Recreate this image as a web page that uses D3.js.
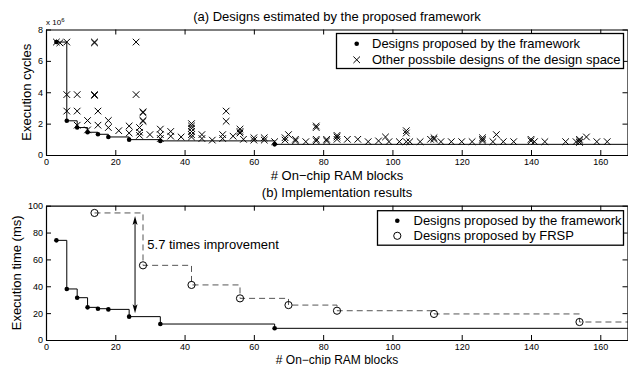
<!DOCTYPE html>
<html>
<head>
<meta charset="utf-8">
<script src="https://cdn.jsdelivr.net/npm/d3@7/dist/d3.min.js"></script>
<style>
  body { margin: 0; background: #fff; }
  svg { display: block; font-family: Arial, "Liberation Sans", Helvetica, sans-serif; }
</style>
</head>
<body>
<div id="chart"></div>
<script>
// ---- data ----
// designs picked by the framework (RAM blocks, cycles x1e6, measured time in ms)
const frameworkBlocks = [3, 6, 9, 12, 15, 18, 24, 33, 66];
const frameworkCycles = [7.2, 2.18, 1.75, 1.45, 1.32, 1.15, 0.98, 0.9, 0.68];
const frameworkTime = [74.2, 38, 31.5, 24.3, 23.3, 22.8, 17.4, 11.9, 8.7];

// designs picked by FRSP
const frspBlocks = [14, 28, 42, 56, 70, 84, 112, 154];
const frspTime = [94.6, 55.6, 41, 31, 26, 21.8, 19.4, 13.4];

// the rest of the design space (cycles x1e6)
const otherBlocks = [
  3, 4, 6, 6, 6, 9, 9, 9, 12, 12, 14, 14, 14, 14, 15, 15, 18, 18, 21, 24, 24,
  26, 26, 27, 27, 27, 28, 28, 28, 28, 30, 33, 33, 33, 36, 36, 39,
  42, 42, 42, 42, 42, 42, 45, 45, 48, 51, 51, 52, 52, 54, 56, 56, 56, 57,
  60, 60, 63, 63, 66, 69, 69, 70, 72, 72, 75, 78, 78, 78, 78, 81, 81,
  84, 84, 84, 87, 90, 93, 96, 98, 99, 102, 104, 104, 104, 105, 108,
  111, 112, 112, 114, 117, 120, 123, 126, 126, 126, 129, 130, 132, 135,
  140, 140, 141, 144, 150, 153, 154, 154, 154, 156, 159, 162
];
const otherCycles = [
  7.2, 7.15, 7.2, 3.85, 2.8, 3.85, 2.8, 1.9, 2.2, 1.6, 7.2, 7.15, 3.85, 3.8, 2.8, 1.9, 2.2, 1.75, 1.55, 1.85, 1.4,
  7.2, 3.85, 1.75, 1.45, 1.25, 2.75, 2.7, 2.2, 2.15, 1.3, 1.65, 1.3, 1.05, 1.5, 1.2, 1.15,
  2.0, 1.85, 1.7, 1.5, 1.3, 1.15, 1.3, 1.05, 0.95, 1.3, 1.05, 2.8, 2.15, 1.2, 1.65, 1.5, 1.4, 1.0,
  1.1, 0.95, 1.1, 0.95, 0.85, 1.1, 0.95, 1.3, 1.0, 0.9, 0.85, 1.85, 1.75, 1.0, 0.9, 1.0, 0.9,
  1.25, 1.15, 1.0, 1.0, 1.0, 0.85, 0.9, 1.15, 0.85, 0.85, 1.55, 1.4, 0.85, 0.85, 0.85,
  1.0, 1.1, 1.0, 0.85, 0.85, 0.85, 0.85, 1.1, 1.0, 0.9, 0.85, 1.3, 0.85, 0.85,
  1.0, 0.9, 0.85, 0.85, 0.85, 0.85, 1.0, 0.9, 0.8, 1.15, 0.85, 0.85
];

const blockTicks = [0, 20, 40, 60, 80, 100, 120, 140, 160];
const cycleTicks = [0, 2, 4, 6, 8];
const timeTicks = [0, 20, 40, 60, 80, 100];

// annotation arrow (RAM blocks, ms)
const arrowBlock = 25.7;
const arrowTop = 92.3;
const arrowBottom = 19.9;

// ---- layout ----
const width = 628, height = 365;
const left = 46, right = 628;
const topPanel = { top: 29.5, bottom: 155 };
const botPanel = { top: 205.7, bottom: 340 };

const svg = d3.select('#chart').append('svg')
  .attr('width', width)
  .attr('height', height);

const x = d3.scaleLinear().domain([0, 168]).range([left, right]);
const yCycles = d3.scaleLinear().domain([0, 8]).range([topPanel.bottom, topPanel.top]);
const yTime = d3.scaleLinear().domain([0, 100]).range([botPanel.bottom, botPanel.top]);

const crossPath = 'M-3.3,-3.3L3.3,3.3M-3.3,3.3L3.3,-3.3';

svg.append('defs').selectAll('clipPath')
  .data([['clipTop', topPanel], ['clipBot', botPanel]])
  .enter().append('clipPath')
  .attr('id', d => d[0])
  .append('rect')
  .attr('x', left).attr('y', d => d[1].top)
  .attr('width', right - left).attr('height', d => d[1].bottom - d[1].top);

function drawAxes(y, yTicks, panel) {
  const g = svg.append('g');

  g.append('g')
    .attr('transform', `translate(0,${panel.bottom})`)
    .call(d3.axisBottom(x).tickValues(blockTicks).tickSizeInner(-5).tickSizeOuter(0).tickPadding(3.5));
  g.append('g')
    .attr('transform', `translate(0,${panel.top})`)
    .call(d3.axisTop(x).tickValues(blockTicks).tickSizeInner(-5).tickSizeOuter(0).tickFormat(''));
  g.append('g')
    .attr('transform', `translate(${left},0)`)
    .call(d3.axisLeft(y).tickValues(yTicks).tickSizeInner(-5).tickSizeOuter(0).tickPadding(3));
  g.append('g')
    .attr('transform', `translate(${right - 0.5},0)`)
    .call(d3.axisRight(y).tickValues(yTicks).tickSizeInner(-5).tickSizeOuter(0).tickFormat(''));

  g.selectAll('.domain').attr('stroke', '#000').attr('stroke-width', 1.2);
  g.selectAll('.tick line').attr('stroke', '#000');
  g.selectAll('.tick text')
    .attr('fill', '#000')
    .style('font-size', '9px')
    .style('font-family', 'Arial, "Liberation Sans", sans-serif');
  return g;
}

function stepLine(y) {
  return d3.line()
    .x(d => x(d[0]))
    .y(d => y(d[1]))
    .curve(d3.curveStepAfter);
}

function withTail(xs, ys) {
  const pts = xs.map((v, i) => [v, ys[i]]);
  pts.push([x.domain()[1], ys[ys.length - 1]]);
  return pts;
}

// ---- panel (a) ----
const plotA = svg.append('g').attr('clip-path', 'url(#clipTop)');

plotA.append('path')
  .datum(withTail(frameworkBlocks, frameworkCycles))
  .attr('d', stepLine(yCycles))
  .attr('fill', 'none')
  .attr('stroke', '#000')
  .attr('stroke-width', 1);

plotA.selectAll('.other')
  .data(otherBlocks)
  .enter().append('path')
  .attr('class', 'other')
  .attr('transform', (d, i) => `translate(${x(d)},${yCycles(otherCycles[i])})`)
  .attr('d', crossPath)
  .attr('stroke', '#000')
  .attr('stroke-width', 1)
  .attr('fill', 'none');

plotA.selectAll('.dotA')
  .data(frameworkBlocks)
  .enter().append('circle')
  .attr('class', 'dotA')
  .attr('cx', d => x(d))
  .attr('cy', (d, i) => yCycles(frameworkCycles[i]))
  .attr('r', 2.3)
  .attr('fill', '#000');

drawAxes(yCycles, cycleTicks, topPanel);

// x 10^6
const expo = svg.append('text')
  .attr('x', left)
  .attr('y', 25)
  .style('font-size', '8px');
expo.append('tspan').text('x 10');
expo.append('tspan').attr('dy', -3).style('font-size', '6px').text('6');

svg.append('text')
  .attr('x', (left + right) / 2)
  .attr('y', 21)
  .attr('text-anchor', 'middle')
  .style('font-size', '13px')
  .text('(a) Designs estimated by the proposed framework');

svg.append('text')
  .attr('x', (left + right) / 2)
  .attr('y', 179.5)
  .attr('text-anchor', 'middle')
  .style('font-size', '13px')
  .text('# On\u2212chip RAM blocks');

svg.append('text')
  .attr('transform', `translate(31,${(topPanel.top + topPanel.bottom) / 2}) rotate(-90)`)
  .attr('text-anchor', 'middle')
  .style('font-size', '13px')
  .text('Execution cycles');

// legend (a)
const legA = svg.append('g');
legA.append('rect')
  .attr('x', 336.5).attr('y', 33.5)
  .attr('width', 287).attr('height', 35)
  .attr('fill', '#fff')
  .attr('stroke', '#000')
  .attr('stroke-width', 1.3);
legA.append('circle').attr('cx', 356.7).attr('cy', 43.8).attr('r', 2.3).attr('fill', '#000');
legA.append('path').attr('transform', 'translate(356.7,59.8)').attr('d', crossPath)
  .attr('stroke', '#000').attr('fill', 'none');
legA.append('text').attr('x', 372).attr('y', 48.3).style('font-size', '13px')
  .text('Designs proposed by the framework');
legA.append('text').attr('x', 372).attr('y', 64.3).style('font-size', '13px')
  .text('Other possbile designs of the design space');

// ---- panel (b) ----
const plotB = svg.append('g').attr('clip-path', 'url(#clipBot)');

plotB.append('path')
  .datum(withTail(frspBlocks, frspTime))
  .attr('d', stepLine(yTime))
  .attr('fill', 'none')
  .attr('stroke', '#555')
  .attr('stroke-width', 1)
  .attr('stroke-dasharray', '6,4');

plotB.append('path')
  .datum(withTail(frameworkBlocks, frameworkTime))
  .attr('d', stepLine(yTime))
  .attr('fill', 'none')
  .attr('stroke', '#000')
  .attr('stroke-width', 1);

plotB.selectAll('.frsp')
  .data(frspBlocks)
  .enter().append('circle')
  .attr('class', 'frsp')
  .attr('cx', d => x(d))
  .attr('cy', (d, i) => yTime(frspTime[i]))
  .attr('r', 3.6)
  .attr('fill', 'none')
  .attr('stroke', '#000')
  .attr('stroke-width', 1);

plotB.selectAll('.dotB')
  .data(frameworkBlocks)
  .enter().append('circle')
  .attr('class', 'dotB')
  .attr('cx', d => x(d))
  .attr('cy', (d, i) => yTime(frameworkTime[i]))
  .attr('r', 2.3)
  .attr('fill', '#000');

// improvement arrow
const ax = x(arrowBlock), ay1 = yTime(arrowTop), ay2 = yTime(arrowBottom);
svg.append('line')
  .attr('x1', ax).attr('x2', ax)
  .attr('y1', ay1 + 4).attr('y2', ay2 - 4)
  .attr('stroke', '#000').attr('stroke-width', 1);
svg.append('path')
  .attr('d', `M${ax},${ay1}L${ax - 2.5},${ay1 + 9}L${ax},${ay1 + 7}L${ax + 2.5},${ay1 + 9}Z`)
  .attr('fill', '#000');
svg.append('path')
  .attr('d', `M${ax},${ay2}L${ax - 2.5},${ay2 - 9}L${ax},${ay2 - 7}L${ax + 2.5},${ay2 - 9}Z`)
  .attr('fill', '#000');
svg.append('text')
  .attr('x', 147.3)
  .attr('y', 249)
  .style('font-size', '13px')
  .text('5.7 times improvement');

drawAxes(yTime, timeTicks, botPanel);

svg.append('text')
  .attr('x', (left + right) / 2)
  .attr('y', 196.5)
  .attr('text-anchor', 'middle')
  .style('font-size', '13px')
  .text('(b) Implementation results');

svg.append('text')
  .attr('x', (left + right) / 2)
  .attr('y', 363.5)
  .attr('text-anchor', 'middle')
  .style('font-size', '12px')
  .text('# On\u2212chip RAM blocks');

svg.append('text')
  .attr('transform', `translate(21,${(botPanel.top + botPanel.bottom) / 2}) rotate(-90)`)
  .attr('text-anchor', 'middle')
  .style('font-size', '13px')
  .text('Execution time (ms)');

// legend (b)
const legB = svg.append('g');
legB.append('rect')
  .attr('x', 377.5).attr('y', 210.7)
  .attr('width', 246).attr('height', 34.5)
  .attr('fill', '#fff')
  .attr('stroke', '#000')
  .attr('stroke-width', 1.3);
legB.append('circle').attr('cx', 397.3).attr('cy', 220.8).attr('r', 2.3).attr('fill', '#000');
legB.append('circle').attr('cx', 397.3).attr('cy', 235.8).attr('r', 3.6)
  .attr('fill', 'none').attr('stroke', '#000');
legB.append('text').attr('x', 413.5).attr('y', 225.3).style('font-size', '13px')
  .text('Designs proposed by the framework');
legB.append('text').attr('x', 413.5).attr('y', 240.3).style('font-size', '13px')
  .text('Designs proposed by FRSP');
</script>
</body>
</html>
